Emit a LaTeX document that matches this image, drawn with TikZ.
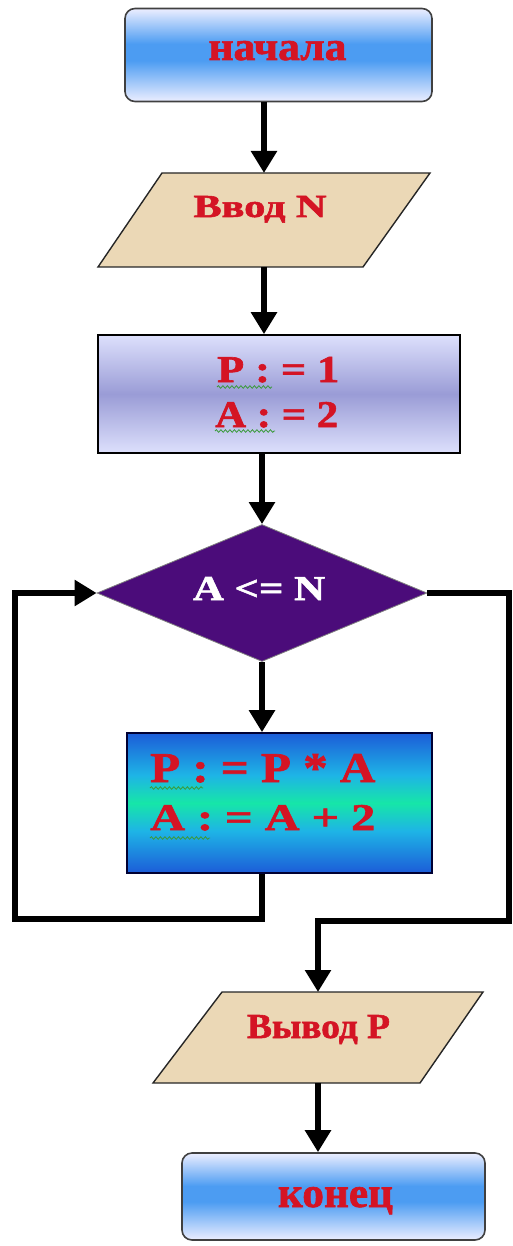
\documentclass[tikz,border=0pt]{standalone}
\usepackage{fontspec}
\setmainfont{Liberation Serif}
\newfontfamily\heavyfont{Liberation Serif}[UprightFont={* Bold}, FakeBold=1.6]
\usepackage{graphicx}
\usetikzlibrary{arrows.meta,shapes.geometric,decorations.pathmorphing}
\definecolor{txtred}{HTML}{D41424}
\definecolor{beige}{HTML}{EBD8B6}
\definecolor{purp}{HTML}{4B0C7A}
\definecolor{wavy}{HTML}{3A9A3A}
\definecolor{sA}{HTML}{ECEEFF}
\definecolor{sB}{HTML}{4C9CF2}
\definecolor{lA}{HTML}{DDE0FC}
\definecolor{lB}{HTML}{9A9CD6}
\definecolor{cA}{HTML}{1C5CD8}
\definecolor{cB}{HTML}{1EB4E6}
\definecolor{cC}{HTML}{16E6A8}
\pgfdeclareverticalshading{termshade}{100bp}{color(0bp)=(sA); color(25bp)=(sA); color(47bp)=(sB); color(56bp)=(sB); color(75bp)=(sA); color(100bp)=(sA)}
\pgfdeclareverticalshading{lavshade}{100bp}{color(0bp)=(lA); color(25bp)=(lA); color(50bp)=(lB); color(75bp)=(lA); color(100bp)=(lA)}
\pgfdeclareverticalshading{cyanshade}{100bp}{color(0bp)=(cA); color(25bp)=(cA); color(40bp)=(cB); color(50bp)=(cC); color(60bp)=(cB); color(75bp)=(cA); color(100bp)=(cA)}
\tikzset{
  lnk/.style={line width=6.5pt, draw=black},
  arr/.style={lnk, -{Triangle[width=25pt,length=22pt]}},
  term/.style={draw=black!75, line width=1.6pt, rounded corners=10pt, inner sep=0pt, shade, shading=termshade},
  proc/.style={draw=black, line width=1.6pt, inner sep=0pt},
  io/.style={draw=none, inner sep=0pt, outer sep=0pt},
  iofill/.style={fill=beige, draw=black!85, line width=1.4pt},
  lbl/.style={text=txtred, font=\heavyfont, inner sep=0pt, anchor=base},
  wav/.style={draw=wavy, line width=0.8pt, decorate, decoration={snake, segment length=4.5pt, amplitude=1.3pt}}
}
\begin{document}
\begin{tikzpicture}[x=1pt,y=-1pt]
\useasboundingbox (0,0) rectangle (513,1246);
% shapes
\node[term, minimum width=307pt, minimum height=93pt] (start) at (278.5,55) {};
\node[io, minimum width=332pt, minimum height=94pt] (in1) at (264,220) {};
\draw[iofill] (in1.south west) -- ([xshift=-67pt]in1.south east) -- (in1.north east) -- ([xshift=64pt]in1.north west) -- cycle;
\node[proc, shade, shading=lavshade, minimum width=362pt, minimum height=118pt] (p1) at (279,394) {};
\node[diamond, fill=purp, draw=black!50, line width=0.8pt, inner sep=0pt, aspect=2.4, minimum width=330pt, minimum height=137pt] (cond) at (262,593) {};
\node[proc, shade, shading=cyanshade, draw=black!80!blue, minimum width=305pt, minimum height=140pt] (p2) at (279.5,803) {};
\node[io, minimum width=330pt, minimum height=91pt] (out) at (318,1037.5) {};
\draw[iofill] (out.south west) -- ([xshift=-63pt]out.south east) -- (out.north east) -- ([xshift=69pt]out.north west) -- cycle;
\node[term, minimum width=303pt, minimum height=87pt] (end) at (333.5,1196.5) {};
% texts
\node[lbl] (tstart) at (277.5,60) {\resizebox{138pt}{19pt}{начала}};
\node[lbl] (tin) at (260,217) {\resizebox{133pt}{21pt}{Ввод N}};
\node[lbl, anchor=base west] (tp1a) at (217,382) {\resizebox{122pt}{25pt}{P : = 1}};
\node[lbl, anchor=base west] (tp1b) at (215,427) {\resizebox{123pt}{25pt}{A : = 2}};
\node[lbl, text=white] (tcond) at (259,600) {\resizebox{132pt}{23pt}{A <= N}};
\node[lbl, anchor=base west] (tp2a) at (150,782) {\resizebox{225pt}{28pt}{P : = P * A}};
\node[lbl, anchor=base west] (tp2b) at (150,830) {\resizebox{225pt}{25pt}{A : = A + 2}};
\node[lbl] (tout) at (318.5,1038) {\resizebox{143pt}{23pt}{Вывод P}};
\node[lbl] (tend) at (335.5,1207) {\resizebox{115pt}{20pt}{конец}};
% wavy underlines
\draw[wav] (217,387) -- (272,387);
\draw[wav] (215,431) -- (275,431);
\draw[wav] (150,788) -- (203,788);
\draw[wav] (150,838) -- (210,838);
% connectors
\coordinate (lb) at (15,919);
\coordinate (rb) at (509,921);
\draw[arr] (start.south -| in1.north) -- (in1.north);
\draw[arr] (in1.south) -- (in1.south |- p1.north);
\draw[arr] (cond.north |- p1.south) -- (cond.north);
\draw[arr] (cond.south) -- (cond.south |- p2.north);
\draw[arr, line join=miter] (p2.south -| cond.south) |- (lb) |- (cond.west);
\draw[arr, line join=miter] (cond.east) -| (rb) -| (out.north);
\draw[arr] (out.south) -- (out.south |- end.north);
\end{tikzpicture}
\end{document}
